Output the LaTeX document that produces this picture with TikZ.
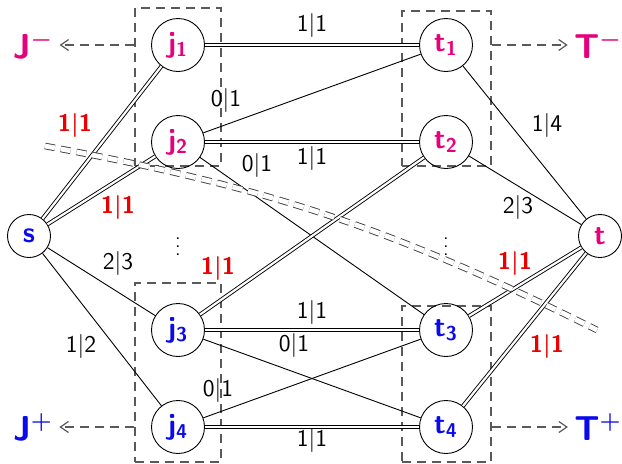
\documentclass[tikz,border=0pt]{standalone}
\usepackage{amsmath}
\usetikzlibrary{arrows.meta}
\definecolor{minuscolor}{RGB}{230,0,126}
\definecolor{pluscolor}{RGB}{10,10,235}
\definecolor{cutcolor}{RGB}{235,0,0}

\begin{document}
\begin{tikzpicture}[
    x=0.5pt, y=0.5pt,
    font=\sffamily,
    %% Column centres:  x = 29  178  446  600   (1 unit = 1 px of the sketch)
    %% Row centres:     y = 418  321  227  133  36
    vtx/.style={circle, draw, line width=0.45pt, minimum size=26.5pt,
                inner sep=0pt, font=\sffamily\Large\bfseries\boldmath},
    term/.style={vtx, minimum size=21.5pt},
    mvtx/.style={vtx, text=minuscolor},
    pvtx/.style={vtx, text=pluscolor},
    grp/.style={draw=black!65, dash pattern=on 4.5pt off 3pt,
                line width=0.6pt, inner sep=0pt},
    garr/.style={draw=black!65, dash pattern=on 4.5pt off 3pt,
                 line width=0.6pt, -{Straight Barb[length=4pt,width=5.5pt]},
                 shorten >=1pt},
    setlbl/.style={font=\sffamily\LARGE\bfseries\boldmath, inner sep=2pt},
    one/.style={line width=0.45pt},
    two/.style={line width=0.45pt, double, double distance=1.1pt},
    lbl/.style={font=\sffamily\large, inner sep=1pt},
    rlbl/.style={lbl, font=\sffamily\large\bfseries\boldmath, text=cutcolor},
    cut/.style={draw=black!75, line width=0.45pt, double, double distance=2.4pt,
                dash pattern=on 5pt off 3pt},
]
\useasboundingbox (0,0) rectangle (622,463);

%% ── Groups (dashed boxes) ────────────────────────────────────────────────
\node[grp, minimum width=43pt, minimum height=79pt]   (Jup) at (178,376) {};
\node[grp, minimum width=43pt, minimum height=89.5pt] (Jlo) at (178,90.5) {};
\node[grp, minimum width=44.5pt, minimum height=77.5pt] (Tup) at (446.5,374.5) {};
\node[grp, minimum width=44.5pt, minimum height=78pt]   (Tlo) at (446.5,79) {};

%% ── Vertices ─────────────────────────────────────────────────────────────
\node[term, text=pluscolor]  (s) at (29,227)  {s};
\node[term, text=minuscolor] (t) at (600,227) {t};

\node[mvtx] (j1) at (178,418) {$\mathsf{j}_{\mathsf{1}}$};
\node[mvtx] (j2) at (178,321) {$\mathsf{j}_{\mathsf{2}}$};
\node[pvtx] (j3) at (178,133) {$\mathsf{j}_{\mathsf{3}}$};
\node[pvtx] (j4) at (178,36)  {$\mathsf{j}_{\mathsf{4}}$};

\node[mvtx] (t1) at (446,418) {$\mathsf{t}_{\mathsf{1}}$};
\node[mvtx] (t2) at (446,321) {$\mathsf{t}_{\mathsf{2}}$};
\node[pvtx] (t3) at (446,133) {$\mathsf{t}_{\mathsf{3}}$};
\node[pvtx] (t4) at (446,36)  {$\mathsf{t}_{\mathsf{4}}$};

\node[inner sep=0pt] (jdots) at (178,222) {$\vdots$};
\node[inner sep=0pt] (tdots) at (446,222) {$\vdots$};

%% ── Set labels ───────────────────────────────────────────────────────────
\node[setlbl, text=minuscolor] (Jminus) at (33,418) {$\mathsf{J}^-$};
\node[setlbl, text=pluscolor]  (Jplus)  at (33,36)  {$\mathsf{J}^+$};
\node[setlbl, text=minuscolor] (Tminus) at (598,418) {$\mathsf{T}^-$};
\node[setlbl, text=pluscolor]  (Tplus)  at (598,36)  {$\mathsf{T}^+$};

\draw[garr] (Jup.west |- j1) -- (Jminus);
\draw[garr] (Jlo.west |- j4) -- (Jplus);
\draw[garr] (Tup.east |- t1) -- (Tminus);
\draw[garr] (Tlo.east |- t4) -- (Tplus);

%% ── Source side ──────────────────────────────────────────────────────────
\draw[two] (s) -- (j1);
\draw[two] (s) -- (j2);
\draw[one] (s) -- (j3);
\draw[one] (s) -- (j4);

%% ── Middle ───────────────────────────────────────────────────────────────
\draw[two] (j1) -- (t1);
\draw[one] (j2) -- (t1);
\draw[two] (j2) -- (t2);
\draw[one] (j2) -- (t3);
\draw[two] (j3) -- (t2);
\draw[two] (j3) -- (t3);
\draw[one] (j3) -- (t4);
\draw[one] (j4) -- (t3);
\draw[two] (j4) -- (t4);

%% ── Sink side ────────────────────────────────────────────────────────────
\draw[one] (t1) -- (t);
\draw[one] (t2) -- (t);
\draw[two] (t3) -- (t);
\draw[two] (t4) -- (t);

%% ── Edge labels ──────────────────────────────────────────────────────────
\node[rlbl] (lsj1) at (75,338)  {1$|$1};
\node[rlbl] (lsj2) at (118,256) {1$|$1};
\node[lbl]  (lsj3) at (118,200) {2$|$3};
\node[lbl]  (lsj4) at (81,117)  {1$|$2};

\node[lbl]  (l11) at (312,438) {1$|$1};
\node[lbl]  (l21) at (226,363) {0$|$1};
\node[lbl]  (l22) at (312,305) {1$|$1};
\node[lbl]  (l23) at (257,298) {0$|$1};
\node[rlbl] (l32) at (218,195) {1$|$1};
\node[lbl]  (l33) at (312,151) {1$|$1};
\node[lbl]  (l34) at (294,118) {0$|$1};
\node[lbl]  (l43) at (218,73)  {0$|$1};
\node[lbl]  (l44) at (312,23)  {1$|$1};

\node[lbl]  (lt1) at (547,338) {1$|$4};
\node[lbl]  (lt2) at (518,256) {2$|$3};
\node[rlbl] (lt3) at (515,200) {1$|$1};
\node[rlbl] (lt4) at (547,117) {1$|$1};

%% ── Cut ──────────────────────────────────────────────────────────────────
\coordinate (cutA) at (45,317);
\coordinate (cutB) at (597,133);
\draw[cut] (cutA) to[bend left=8] (cutB);

\end{tikzpicture}
\end{document}
